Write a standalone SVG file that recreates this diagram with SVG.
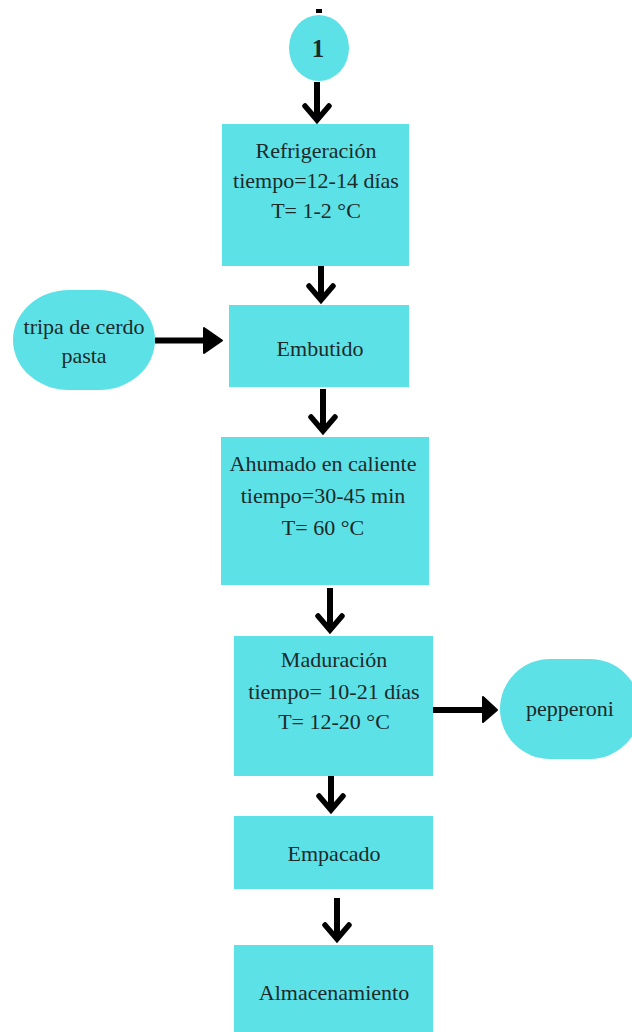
<svg xmlns="http://www.w3.org/2000/svg" width="632" height="1032" viewBox="0 0 632 1032">
<style>
.box{fill:#5ce1e6;}
.t{font-family:'Liberation Serif','Times New Roman',Times,serif;font-size:22px;fill:#1c2a2a;text-anchor:middle;}
.shaft{stroke:#000;stroke-width:6;fill:none;}
.chev{stroke:#000;stroke-width:5.5;fill:none;stroke-linecap:round;stroke-linejoin:miter;}
.tri{fill:#000;stroke:#000;stroke-width:2;stroke-linejoin:round;}
</style>
<rect width="632" height="1032" fill="#fff"/>
<g id="connectors">
<line class="shaft" x1="319" y1="9" x2="319" y2="13"/>
<line class="shaft" x1="317" y1="82" x2="317" y2="120"/>
<polyline class="chev" points="305,106 317,120 329,106"/>
<line class="shaft" x1="321" y1="266" x2="321" y2="300"/>
<polyline class="chev" points="309,286 321,300 333,286"/>
<line class="shaft" x1="323" y1="389" x2="323" y2="431"/>
<polyline class="chev" points="311,417 323,431 335,417"/>
<line class="shaft" x1="330" y1="588" x2="330" y2="630"/>
<polyline class="chev" points="318,616 330,630 342,616"/>
<line class="shaft" x1="331" y1="776" x2="331" y2="810"/>
<polyline class="chev" points="319,796 331,810 343,796"/>
<line class="shaft" x1="337" y1="898" x2="337" y2="939"/>
<polyline class="chev" points="325,925 337,939 349,925"/>
<line class="shaft" x1="155" y1="340.5" x2="206" y2="340.5"/>
<polygon class="tri" points="204,328 222,340.5 204,353"/>
<line class="shaft" x1="433" y1="710" x2="485" y2="710"/>
<polygon class="tri" points="483,697 497,710 483,722"/>
</g>
<g id="n1">
<ellipse class="box" cx="319" cy="48" rx="30" ry="33"/>
<text class="t" x="318" y="57" style="font-size:25px;font-weight:bold">1</text>
</g>
<g id="refrigeracion">
<rect class="box" x="222" y="124" width="187" height="142"/>
<text class="t" x="316" y="158">Refrigeración</text>
<text class="t" x="316" y="188">tiempo=12-14 días</text>
<text class="t" x="316" y="218">T= 1-2 °C</text>
</g>
<g id="tripa">
<rect class="box" x="13" y="290" width="142" height="100" rx="56" ry="50"/>
<text class="t" x="84" y="334">tripa de cerdo</text>
<text class="t" x="84" y="363">pasta</text>
</g>
<g id="embutido">
<rect class="box" x="229" y="305" width="180" height="82"/>
<text class="t" x="320" y="356">Embutido</text>
</g>
<g id="ahumado">
<rect class="box" x="221" y="437" width="208" height="148"/>
<text class="t" x="323" y="471">Ahumado en caliente</text>
<text class="t" x="323" y="503">tiempo=30-45 min</text>
<text class="t" x="323" y="535">T= 60 °C</text>
</g>
<g id="maduracion">
<rect class="box" x="234" y="636" width="199" height="140"/>
<text class="t" x="334" y="667">Maduración</text>
<text class="t" x="334" y="699">tiempo= 10-21 días</text>
<text class="t" x="334" y="729">T= 12-20 °C</text>
</g>
<g id="pepperoni">
<rect class="box" x="500" y="659" width="140" height="100" rx="50" ry="50"/>
<text class="t" x="570" y="716">pepperoni</text>
</g>
<g id="empacado">
<rect class="box" x="234" y="816" width="199" height="73"/>
<text class="t" x="334" y="861">Empacado</text>
</g>
<g id="almacenamiento">
<rect class="box" x="234" y="945" width="199" height="95"/>
<text class="t" x="334" y="1000">Almacenamiento</text>
</g>
</svg>
